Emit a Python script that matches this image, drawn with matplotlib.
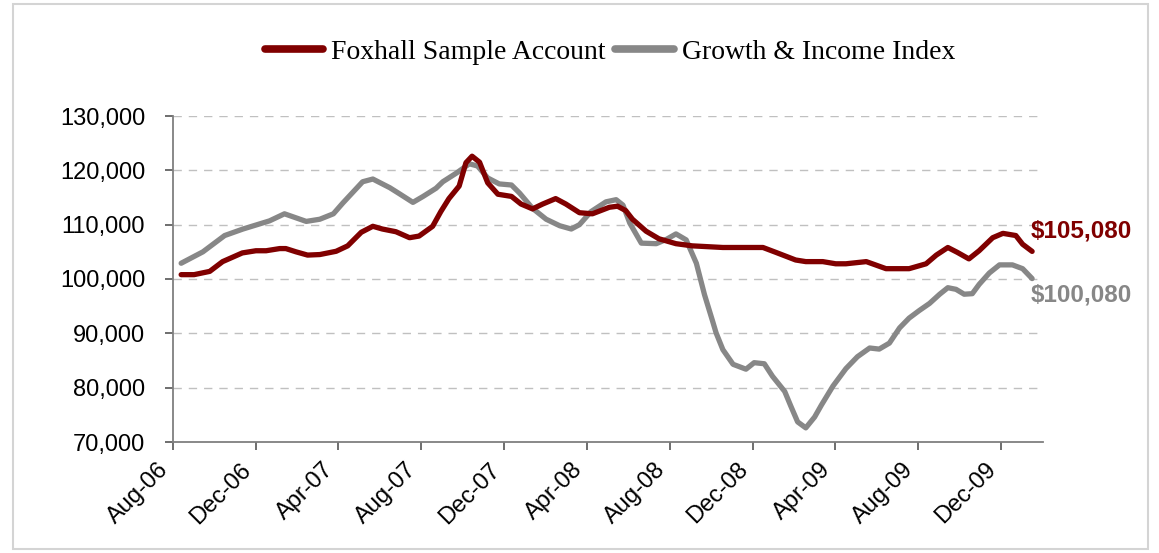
import pandas as pd
import matplotlib
matplotlib.use("Agg")
import matplotlib.pyplot as plt
import matplotlib.dates as mdates
from matplotlib.patches import Rectangle
from matplotlib.ticker import FuncFormatter

# Foxhall Sample Account
fox_dates = [
    "2006-08-13", "2006-09-01", "2006-09-24", "2006-10-13", "2006-11-11", "2006-12-01",
    "2006-12-16", "2007-01-05", "2007-01-14", "2007-01-29", "2007-02-15", "2007-03-05",
    "2007-03-29", "2007-04-15", "2007-05-05", "2007-05-22", "2007-06-05", "2007-06-25",
    "2007-07-15", "2007-07-29", "2007-08-18", "2007-08-30", "2007-09-11", "2007-09-26",
    "2007-10-06", "2007-10-15", "2007-10-26", "2007-11-07", "2007-11-22", "2007-12-12",
    "2007-12-26", "2008-01-12", "2008-01-27", "2008-02-15", "2008-03-01", "2008-03-21",
    "2008-04-09", "2008-05-04", "2008-05-16", "2008-05-28", "2008-06-07", "2008-06-27",
    "2008-07-16", "2008-08-10", "2008-09-03", "2008-10-18", "2008-12-16", "2009-01-04",
    "2009-02-02", "2009-02-17", "2009-03-14", "2009-04-02", "2009-04-17", "2009-05-17",
    "2009-06-15", "2009-07-19", "2009-08-13", "2009-08-28", "2009-09-14", "2009-09-28",
    "2009-10-15", "2009-10-30", "2009-11-19", "2009-12-04", "2009-12-23", "2010-01-02",
    "2010-01-16",
]
fox_values = [
    100800, 100800, 101400, 103200, 104800, 105200,
    105200, 105600, 105600, 105000, 104400, 104500,
    105100, 106100, 108600, 109700, 109200, 108700,
    107600, 107900, 109700, 112400, 114800, 117100,
    121400, 122600, 121500, 117700, 115600, 115200,
    113800, 112900, 113800, 114800, 113800, 112200,
    112000, 113200, 113400, 112600, 111000, 108800,
    107400, 106500, 106100, 105800, 105800, 104900,
    103500, 103200, 103200, 102800, 102800, 103200,
    101900, 101900, 102800, 104400, 105800, 104900,
    103700, 105200, 107600, 108400, 108000, 106400,
    105080,
]

# Growth & Income Index
idx_dates = [
    "2006-08-13", "2006-09-14", "2006-10-16", "2006-11-12", "2006-12-21", "2007-01-12",
    "2007-02-13", "2007-03-05", "2007-03-25", "2007-04-08", "2007-05-07", "2007-05-22",
    "2007-06-16", "2007-06-30", "2007-07-20", "2007-08-04", "2007-08-23", "2007-09-02",
    "2007-09-22", "2007-10-11", "2007-10-23", "2007-11-07", "2007-11-24", "2007-12-12",
    "2007-12-24", "2008-01-12", "2008-02-01", "2008-02-21", "2008-03-09", "2008-03-21",
    "2008-04-07", "2008-04-29", "2008-05-14", "2008-05-24", "2008-06-03", "2008-06-20",
    "2008-07-12", "2008-07-27", "2008-08-10", "2008-08-25", "2008-09-09", "2008-09-21",
    "2008-10-03", "2008-10-08", "2008-10-18", "2008-11-02", "2008-11-21", "2008-12-03",
    "2008-12-18", "2008-12-30", "2009-01-17", "2009-01-26", "2009-02-05", "2009-02-17",
    "2009-03-02", "2009-03-12", "2009-03-29", "2009-04-17", "2009-05-04", "2009-05-22",
    "2009-06-05", "2009-06-20", "2009-07-05", "2009-07-19", "2009-08-03", "2009-08-18",
    "2009-09-02", "2009-09-14", "2009-09-26", "2009-10-08", "2009-10-20", "2009-10-30",
    "2009-11-14", "2009-11-29", "2009-12-18", "2010-01-02", "2010-01-16",
]
idx_values = [
    102900, 105000, 108000, 109200, 110700, 112000,
    110600, 111000, 112000, 114000, 117900, 118400,
    116800, 115700, 114100, 115200, 116700, 117900,
    119500, 121200, 120800, 118600, 117500, 117300,
    115800, 113000, 111000, 109800, 109200, 110000,
    112400, 114200, 114600, 113600, 110300, 106600,
    106500, 107300, 108300, 107200, 102900, 97100,
    92200, 90100, 87000, 84300, 83400, 84600,
    84400, 82100, 79300, 76600, 73700, 72600,
    74600, 76800, 80300, 83500, 85700, 87300,
    87100, 88200, 91000, 92800, 94200, 95500,
    97200, 98400, 98100, 97200, 97300, 99000,
    101100, 102600, 102600, 101900, 100080,
]

fox_label = "Foxhall Sample Account"
idx_label = "Growth & Income Index"
end_labels = ["$105,080", "$100,080"]

red = "#800000"
grey = "#878787"

fig = plt.figure(figsize=(11.59, 5.53), dpi=100)
W, H = 1159, 553
ax = fig.add_axes([173 / W, 1 - 442 / H, (1043 - 173) / W, (442 - 116) / H])

fd = pd.to_datetime(fox_dates)
gd = pd.to_datetime(idx_dates)
ax.plot(fd, fox_values, color=red, lw=3.8, solid_capstyle="round", solid_joinstyle="round",
        label=fox_label, zorder=3)
ax.plot(gd, idx_values, color=grey, lw=3.8, solid_capstyle="round", solid_joinstyle="round",
        label=idx_label, zorder=2)

ax.set_ylim(70000, 130000)
ax.set_yticks(range(70000, 130001, 10000))
ax.yaxis.set_major_formatter(FuncFormatter(lambda v, p: f"{int(v):,}"))
ax.set_xlim(pd.Timestamp("2006-08-01"), pd.Timestamp("2010-02-01"))
ax.xaxis.set_major_locator(mdates.MonthLocator(bymonth=[4, 8, 12]))
ax.xaxis.set_major_formatter(mdates.DateFormatter("%b-%y"))

for y in range(80000, 130001, 10000):
    ax.axhline(y, color="#c0c0c0", lw=1, ls=(0, (6, 5)), zorder=1)

for s in ["top", "right"]:
    ax.spines[s].set_visible(False)
for s in ["left", "bottom"]:
    ax.spines[s].set_color("#7f7f7f")
    ax.spines[s].set_linewidth(1.3)

ax.tick_params(axis="both", direction="out", length=6, width=1.2, color="#555555")
ax.tick_params(axis="y", pad=14, labelsize=17)
ax.tick_params(axis="x", pad=6, labelsize=17)
for t in ax.get_yticklabels():
    t.set_fontfamily("Liberation Sans")
for t in ax.get_xticklabels():
    t.set_fontfamily("Liberation Sans")
    t.set_rotation(45)
    t.set_ha("right")

# end-of-series labels
ax.annotate(end_labels[0], xy=(fd[-1], fox_values[-1]), xytext=(-1, 20),
            textcoords="offset pixels", ha="left", va="center", color=red,
            fontsize=17.5, fontweight="bold", family="Liberation Sans", annotation_clip=False)
ax.annotate(end_labels[1], xy=(gd[-1], idx_values[-1]), xytext=(-1, -16),
            textcoords="offset pixels", ha="left", va="center", color=grey,
            fontsize=17.5, fontweight="bold", family="Liberation Sans", annotation_clip=False)

leg = fig.legend(loc="center", bbox_to_anchor=(610 / W, 1 - 52 / H), ncol=2, frameon=False,
                 prop={"family": "Liberation Serif", "size": 20}, handlelength=2.1,
                 handletextpad=0.3, columnspacing=0.35)
for line in leg.get_lines():
    line.set_linewidth(5.5)

# chart-area border
fig.patches.append(Rectangle((13 / W, 4 / H), (1148 - 13) / W, (549 - 4) / H,
                             transform=fig.transFigure, fill=False, ec="#d4d4d4", lw=1.5))

fig.savefig("out.png", dpi=100)
